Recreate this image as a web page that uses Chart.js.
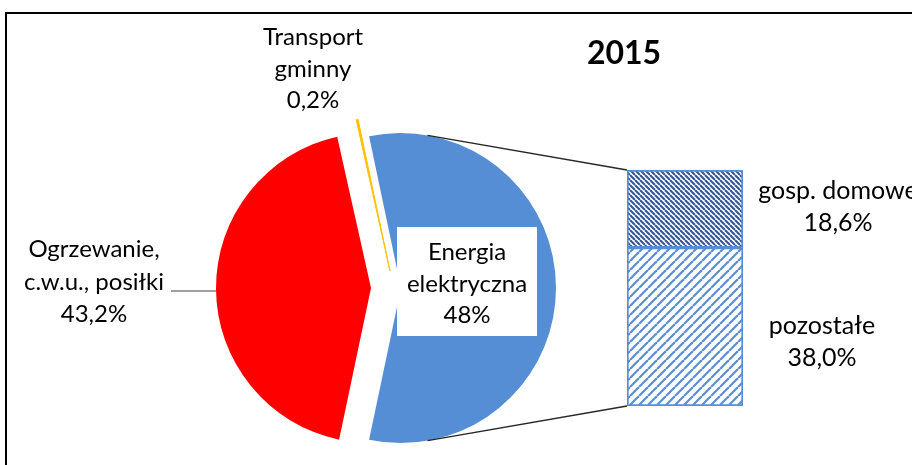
<!DOCTYPE html>
<html>
<head>
<meta charset="utf-8">
<script src="https://cdn.jsdelivr.net/npm/chart.js@4.4.0/dist/chart.umd.min.js"></script>
<style>
  body { margin: 0; background: #fff; }
  #wrap { position: relative; width: 912px; height: 465px; overflow: hidden; background: #fff; }
  #frame { position: absolute; left: 5px; top: 12px; width: 2000px; height: 2000px;
           border-left: 2px solid #000; border-top: 2px solid #000; }
  canvas { position: absolute; left: 0; top: 0; }
</style>
</head>
<body>
<div id="wrap">
  <div id="frame"></div>
  <canvas id="barChart" width="912" height="465"></canvas>
  <canvas id="pieChart" width="912" height="465"></canvas>
</div>
<script>
// dane
const chartTitle = '2015';
const pieCategories = [['Energia', 'elektryczna'], ['Ogrzewanie,', 'c.w.u., posiłki'], ['Transport', 'gminny']];
const pieValues = [56.6, 43.2, 0.2];
const pieValueLabels = ['48%', '43,2%', '0,2%'];   // tak jak na wykresie
const barCategories = ['pozostałe', 'gosp. domowe'];
const barValues = [38.0, 18.6];

const pieColors = ['#558ED5', '#FF0000', '#FFC000'];
const sliceShift = [[30, 0], [0, 0], [19, -17]];   // przesunięcie wycinków (px)
const FONT = 'Lato, "Open Sans", sans-serif';

function fmt(v) { return v.toFixed(1).replace('.', ',') + '%'; }

// wzór kreskowania
function hatch(color, s, lw, dir) {
  const c = document.createElement('canvas');
  c.width = s; c.height = s;
  const g = c.getContext('2d');
  g.fillStyle = '#fff';
  g.fillRect(0, 0, s, s);
  g.strokeStyle = color;
  g.lineWidth = lw;
  for (let k = -1; k <= 1; k++) {
    g.beginPath();
    if (dir === '/') { g.moveTo(k * s, s); g.lineTo(k * s + s, 0); }
    else { g.moveTo(k * s, 0); g.lineTo(k * s + s, s); }
    g.stroke();
  }
  return g.createPattern(c, 'repeat');
}

const barPatterns = [hatch('#5B8DD4', 9, 2.2, '/'), hatch('#2F5597', 5, 2.0, '\\')];
const barTotal = barValues.reduce((a, b) => a + b, 0);

const barChart = new Chart(document.getElementById('barChart'), {
  type: 'bar',
  data: {
    labels: [''],
    datasets: barCategories.map((c, i) => ({
      label: c,
      data: [barValues[i]],
      backgroundColor: barPatterns[i],
      borderColor: '#558ED5',
      borderWidth: 2,
      borderSkipped: false,
      barPercentage: 1,
      categoryPercentage: 1
    }))
  },
  options: {
    responsive: false,
    animation: false,
    devicePixelRatio: 1,
    events: [],
    layout: { padding: { left: 627, right: 169, top: 170, bottom: 59 } },
    scales: {
      x: { display: false, stacked: true },
      y: { display: false, stacked: true, min: 0, max: barTotal }
    },
    plugins: { legend: { display: false }, tooltip: { enabled: false } }
  }
});

function tangentPoint(cx, cy, r, px, py, sign) {
  const d = Math.hypot(px - cx, py - cy);
  const a = Math.atan2(py - cy, px - cx) + sign * Math.acos(r / d);
  return [cx + r * Math.cos(a), cy + r * Math.sin(a)];
}

const shiftPlugin = {
  id: 'shiftSlices',
  afterDatasetsUpdate(chart) {
    chart.getDatasetMeta(0).data.forEach((arc, i) => {
      arc.x += sliceShift[i][0];
      arc.y += sliceShift[i][1];
    });
  }
};

function lines(ctx, arr, x, y0, step) {
  arr.forEach((t, i) => ctx.fillText(t, x, y0 + i * step));
}

const labelPlugin = {
  id: 'labels',
  afterDraw(chart) {
    const ctx = chart.ctx;
    const arcs = chart.getDatasetMeta(0).data;
    const blue = arcs[0], red = arcs[1];
    const r = blue.outerRadius;
    ctx.save();

    // linie łączące
    const bot = barChart.getDatasetMeta(0).data[0];
    const top = barChart.getDatasetMeta(1).data[0];
    const left = top.x - top.width / 2;
    const right = top.x + top.width / 2;
    ctx.strokeStyle = '#262626';
    ctx.lineWidth = 1.3;
    const t1 = tangentPoint(blue.x, blue.y, r, left, top.y, -1);
    const t2 = tangentPoint(blue.x, blue.y, r, left, bot.base, 1);
    ctx.beginPath();
    ctx.moveTo(t1[0], t1[1]); ctx.lineTo(left, top.y);
    ctx.moveTo(t2[0], t2[1]); ctx.lineTo(left, bot.base);
    ctx.stroke();

    // linia odniesienia
    ctx.strokeStyle = '#7F7F7F';
    ctx.lineWidth = 1.5;
    ctx.beginPath();
    ctx.moveTo(red.x - r - 45, red.y + 3);
    ctx.lineTo(red.x - r, red.y + 3);
    ctx.stroke();

    // ramka etykiety
    ctx.fillStyle = '#fff';
    ctx.fillRect(blue.x - 4, blue.y - 61, 140, 109);

    ctx.fillStyle = '#000';
    ctx.textAlign = 'center';
    ctx.textBaseline = 'alphabetic';
    ctx.font = '24px ' + FONT;
    lines(ctx, [...pieCategories[0], pieValueLabels[0]], blue.x + 66, blue.y - 28, 31.5);
    lines(ctx, [...pieCategories[1], pieValueLabels[1]], red.x - 277, red.y - 31, 32.5);
    lines(ctx, [...pieCategories[2], pieValueLabels[2]], red.x - 58, red.y - 243, 31.5);

    // etykiety słupka
    ctx.font = '25px ' + FONT;
    lines(ctx, [barCategories[1], fmt(barValues[1])], right + 95, top.y + 29, 32);
    lines(ctx, [barCategories[0], fmt(barValues[0])], right + 79, bot.y + 86, 32);

    ctx.font = 'bold 32px ' + FONT;
    ctx.fillText(chartTitle, 624, 64);
    ctx.restore();
  }
};

const pieChart = new Chart(document.getElementById('pieChart'), {
  type: 'pie',
  data: {
    labels: pieCategories.map(c => c.join(' ')),
    datasets: [{
      data: pieValues,
      backgroundColor: pieColors,
      borderColor: pieColors,
      borderWidth: [0, 0, 1]
    }]
  },
  options: {
    responsive: false,
    animation: false,
    devicePixelRatio: 1,
    events: [],
    radius: 155,
    rotation: 90 - pieValues[0] / pieValues.reduce((a, b) => a + b, 0) * 180,
    layout: { padding: { left: 0, right: 170, top: 111, bottom: 0 } },
    plugins: { legend: { display: false }, tooltip: { enabled: false } }
  },
  plugins: [shiftPlugin, labelPlugin]
});
</script>
</body>
</html>
